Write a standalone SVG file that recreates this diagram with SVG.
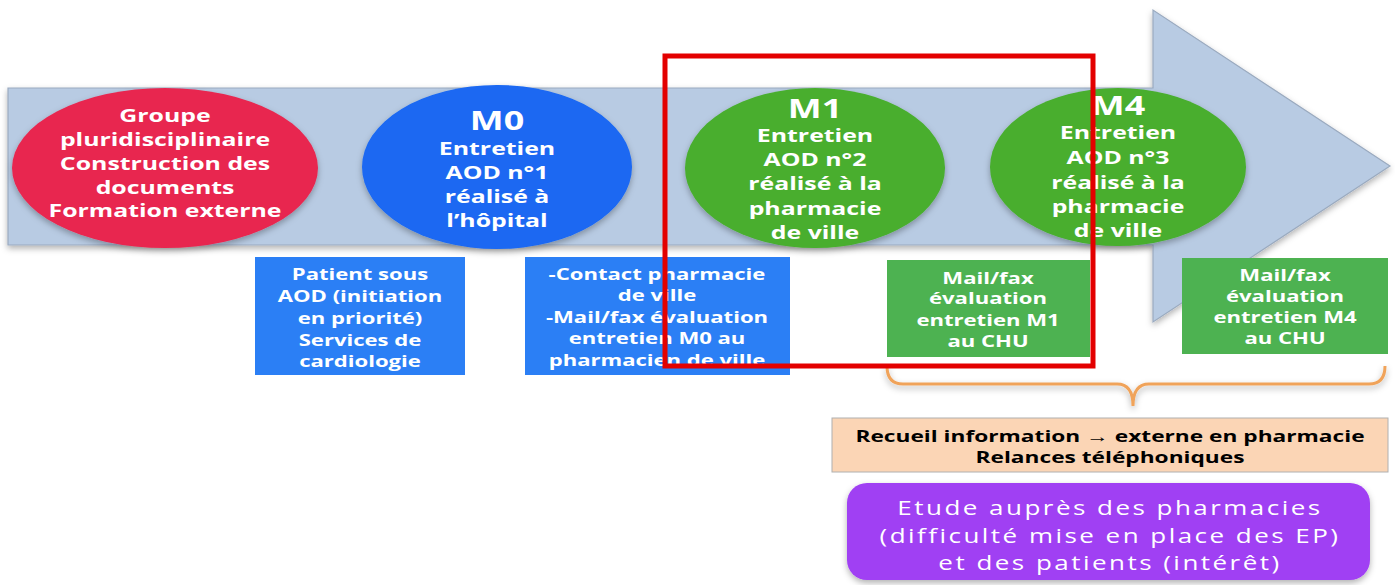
<svg xmlns="http://www.w3.org/2000/svg" width="1395" height="585" viewBox="0 0 1395 585">
<defs>
<filter id="sh" x="-10%" y="-10%" width="120%" height="130%">
<feDropShadow dx="0" dy="3" stdDeviation="3" flood-color="#000" flood-opacity="0.3"/>
</filter>
<style>
text{font-family:"Open Sans","Liberation Sans",sans-serif;text-anchor:middle;}
.w{fill:#fff;font-weight:700;}
.t18{font-size:18px;}
.t16{font-size:16px;}
.big{font-size:26px;}
.k{fill:#000;font-weight:700;font-size:16px;}
.p{fill:#fff;font-size:20px;font-weight:400;letter-spacing:1.9px;}
.blue{fill:#2b7ff5;}
.green{fill:#4db251;}
</style>
</defs>
<rect width="1395" height="585" fill="#fff"/>
<g id="timeline-arrow">
<polygon points="8,88 1153,88 1153,10 1390,166 1153,322 1153,245 8,245" fill="#b8cbe3" stroke="#9aaabf" stroke-width="1.2" filter="url(#sh)"/>
</g>
<g id="node-groupe">
<ellipse cx="165" cy="168" rx="153" ry="80" fill="#e8264f" filter="url(#sh)"/>
<g transform="translate(165,0) scale(1.38,1)" class="w t18">
<text x="0" y="122">Groupe</text>
<text x="0" y="146">pluridisciplinaire</text>
<text x="0" y="170">Construction des</text>
<text x="0" y="194">documents</text>
<text x="0" y="217">Formation externe</text>
</g>
</g>
<g id="node-m0">
<ellipse cx="497" cy="167" rx="135" ry="82" fill="#1a68f2" filter="url(#sh)"/>
<g transform="translate(497,0) scale(1.38,1)" class="w t18">
<text x="0" y="130" class="big">M0</text>
<text x="0" y="155">Entretien</text>
<text x="0" y="179">AOD n°1</text>
<text x="0" y="203">réalisé à</text>
<text x="0" y="227">l’hôpital</text>
</g>
</g>
<g id="node-m1">
<ellipse cx="815" cy="168" rx="130" ry="80" fill="#48ae2e" filter="url(#sh)"/>
<g transform="translate(815,0) scale(1.38,1)" class="w t18">
<text x="0" y="118" class="big">M1</text>
<text x="0" y="142">Entretien</text>
<text x="0" y="166">AOD n°2</text>
<text x="0" y="190">réalisé à la</text>
<text x="0" y="215">pharmacie</text>
<text x="0" y="239">de ville</text>
</g>
</g>
<g id="node-m4">
<ellipse cx="1118" cy="167" rx="128" ry="79" fill="#48ae2e" filter="url(#sh)"/>
<g transform="translate(1118,0) scale(1.38,1)" class="w t18">
<text x="0" y="115" class="big">M4</text>
<text x="0" y="139">Entretien</text>
<text x="0" y="164">AOD n°3</text>
<text x="0" y="189">réalisé à la</text>
<text x="0" y="213">pharmacie</text>
<text x="0" y="237">de ville</text>
</g>
</g>
<g id="box-patient">
<rect x="255" y="257" width="210" height="118" class="blue"/>
<g transform="translate(360,0) scale(1.38,1)" class="w t16">
<text x="0" y="280">Patient sous</text>
<text x="0" y="302">AOD (initiation</text>
<text x="0" y="324">en priorité)</text>
<text x="0" y="346">Services de</text>
<text x="0" y="367">cardiologie</text>
</g>
</g>
<g id="box-contact">
<rect x="525" y="257" width="265" height="118" class="blue"/>
<g transform="translate(657,0) scale(1.38,1)" class="w t16">
<text x="0" y="280">-Contact pharmacie</text>
<text x="0" y="301">de ville</text>
<text x="0" y="323">-Mail/fax évaluation</text>
<text x="0" y="344">entretien M0 au</text>
<text x="0" y="366">pharmacien de ville</text>
</g>
</g>
<g id="box-m1-eval">
<rect x="887" y="260" width="203" height="97" class="green"/>
<g transform="translate(988,0) scale(1.38,1)" class="w t16">
<text x="0" y="284">Mail/fax</text>
<text x="0" y="304">évaluation</text>
<text x="0" y="326">entretien M1</text>
<text x="0" y="347">au CHU</text>
</g>
</g>
<g id="box-m4-eval">
<rect x="1182" y="258" width="206" height="96" class="green"/>
<g transform="translate(1285,0) scale(1.38,1)" class="w t16">
<text x="0" y="281">Mail/fax</text>
<text x="0" y="302">évaluation</text>
<text x="0" y="323">entretien M4</text>
<text x="0" y="344">au CHU</text>
</g>
</g>
<g id="connectors">
<path d="M887,366 Q887,384 903,384 L1117,384 Q1133,384 1133,406 Q1133,384 1149,384 L1369,384 Q1385,384 1385,366" fill="none" stroke="#f0a35a" stroke-width="3" filter="url(#sh)"/>
</g>
<g id="box-recueil">
<rect x="832" y="418" width="556" height="54" fill="#fbd5b5" stroke="#b0b0b0" stroke-width="1"/>
<g transform="translate(1110,0) scale(1.42,1)" class="k">
<text x="0" y="442">Recueil information → externe en pharmacie</text>
<text x="0" y="463">Relances téléphoniques</text>
</g>
</g>
<g id="box-etude">
<rect x="847" y="483" width="523" height="97" rx="20" fill="#a03ff3" filter="url(#sh)"/>
<g transform="translate(1110,0) scale(1.3,1)" class="p">
<text x="0" y="515">Etude auprès des pharmacies</text>
<text x="0" y="543">(difficulté mise en place des EP)</text>
<text x="0" y="570">et des patients (intérêt)</text>
</g>
</g>
<g id="highlight">
<rect x="665" y="56" width="428" height="310" fill="none" stroke="#e30000" stroke-width="5"/>
</g>
</svg>
